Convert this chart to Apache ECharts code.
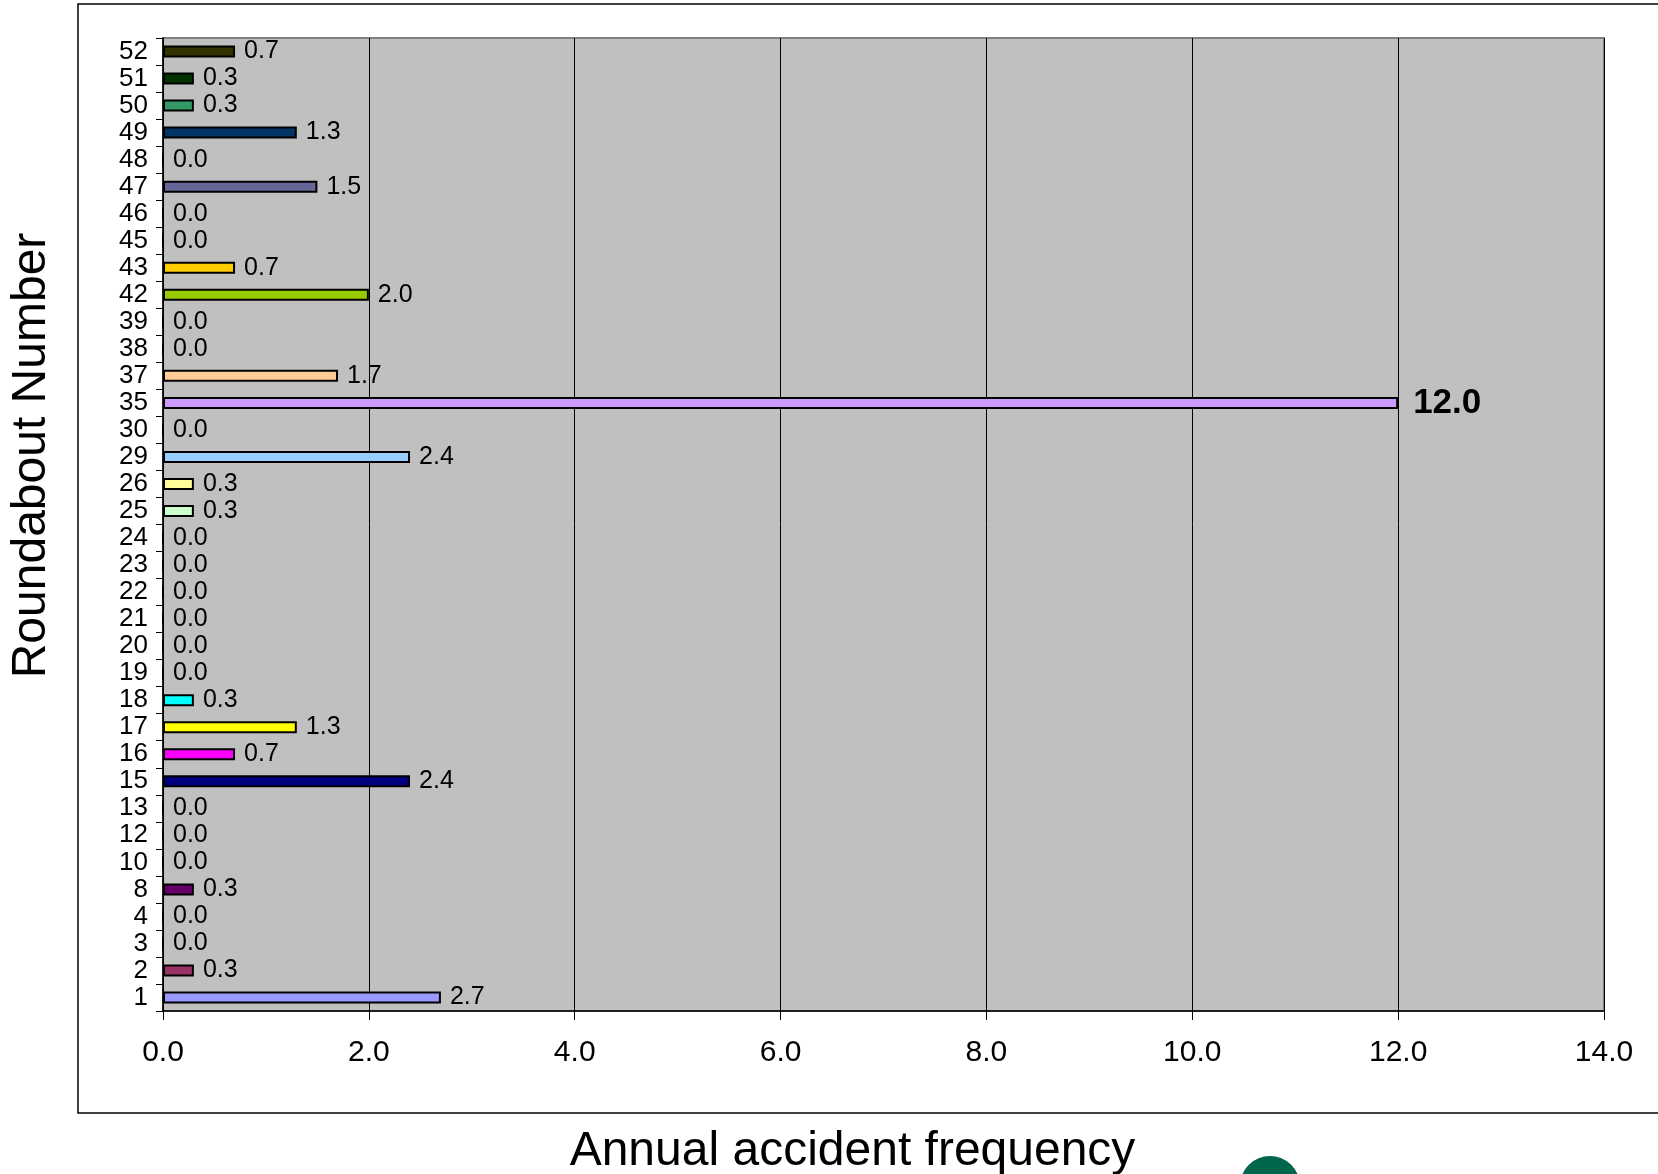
<!DOCTYPE html>
<html>
<head>
<meta charset="utf-8">
<title>Annual accident frequency by roundabout</title>
<script src="https://cdn.jsdelivr.net/npm/echarts@6/dist/echarts.min.js"></script>
<style>
  html, body { margin: 0; padding: 0; background: #ffffff; }
  #chart { width: 1658px; height: 1174px; }
</style>
</head>
<body>
<div id="chart"></div>
<script>
// Roundabout numbers, bottom to top
const roundabouts = ['1','2','3','4','8','10','12','13','15','16','17','18','19','20','21','22','23','24','25','26','29','30','35','37','38','39','42','43','45','46','47','48','49','50','51','52'];

// Annual accident frequency per roundabout
const frequency = [2.7, 0.3, 0.0, 0.0, 0.3, 0.0, 0.0, 0.0, 2.4, 0.7, 1.3, 0.3, 0.0, 0.0, 0.0, 0.0, 0.0, 0.0, 0.3, 0.3, 2.4, 0.0, 12.0, 1.7, 0.0, 0.0, 2.0, 0.7, 0.0, 0.0, 1.5, 0.0, 1.3, 0.3, 0.3, 0.7];

// Fill colour of each bar
const barColors = ['#9999FF','#993366','#9999FF','#9999FF','#660066','#9999FF','#9999FF','#9999FF','#000080','#FF00FF','#FFFF00','#00FFFF','#9999FF','#9999FF','#9999FF','#9999FF','#9999FF','#9999FF','#CCFFCC','#FFFF99','#99CCFF','#9999FF','#CC99FF','#FFCC99','#9999FF','#9999FF','#99CC00','#FFCC00','#9999FF','#9999FF','#666699','#9999FF','#003366','#339966','#003300','#333300'];

// Frequency axis ticks
const xMin = 0, xMax = 14, xStep = 2;

const FONT = '"Liberation Sans", Arial, sans-serif';
const peak = Math.max(...frequency);

const seriesData = frequency.map((v, i) => {
  const item = { value: v, itemStyle: { color: barColors[i] } };
  if (v === peak) {
    item.label = { fontSize: 35, fontWeight: 'bold', distance: 15 };
  }
  return item;
});

const chart = echarts.init(document.getElementById('chart'), null, { renderer: 'canvas' });

chart.setOption({
  animation: false,
  backgroundColor: '#ffffff',
  textStyle: { fontFamily: FONT, color: '#000' },
  graphic: [
    {
      type: 'rect',
      z: -10,
      shape: { x: 78, y: 4, width: 1700, height: 1109 },
      style: { fill: 'none', stroke: '#000', lineWidth: 1.5 }
    },
    {
      type: 'circle',
      shape: { cx: 1270, cy: 1186, r: 30 },
      style: { fill: '#00664D' }
    }
  ],
  grid: {
    left: 163,
    top: 38,
    right: 54,
    bottom: 163,
    outerBoundsMode: 'none',
    containLabel: false,
    show: true,
    backgroundColor: '#C0C0C0',
    borderColor: '#808080',
    borderWidth: 2
  },
  xAxis: {
    type: 'value',
    min: xMin,
    max: xMax,
    interval: xStep,
    name: 'Annual accident frequency',
    nameLocation: 'middle',
    nameGap: 117,
    nameTextStyle: { fontSize: 48, color: '#000', fontFamily: FONT, padding: [0, 62, 0, 0] },
    axisLine: { show: true, lineStyle: { color: '#000', width: 1.5 } },
    axisTick: { show: true, length: 9, lineStyle: { color: '#000', width: 1 } },
    axisLabel: {
      fontSize: 30,
      color: '#000',
      fontFamily: FONT,
      margin: 27,
      formatter: v => v.toFixed(1)
    },
    splitLine: { show: true, lineStyle: { color: '#000', width: 1 } }
  },
  yAxis: {
    type: 'category',
    data: roundabouts,
    name: 'Roundabout Number',
    nameLocation: 'middle',
    nameRotate: 90,
    nameGap: 107,
    nameTextStyle: { fontSize: 48, color: '#000', fontFamily: FONT, padding: [0, 0, 0, 138] },
    axisLine: { show: true, lineStyle: { color: '#000', width: 1.5 } },
    axisTick: { show: true, length: 7, lineStyle: { color: '#000', width: 1 } },
    axisLabel: {
      fontSize: 26,
      color: '#000',
      fontFamily: FONT,
      margin: 15,
      interval: 0
    },
    splitLine: { show: false }
  },
  series: [
    {
      type: 'bar',
      data: seriesData,
      barWidth: 12,
      itemStyle: { borderColor: '#000', borderWidth: 2 },
      label: {
        show: true,
        position: 'right',
        distance: 9,
        fontSize: 25,
        color: '#000',
        fontFamily: FONT,
        formatter: p => p.value.toFixed(1)
      }
    }
  ]
});
</script>
</body>
</html>
